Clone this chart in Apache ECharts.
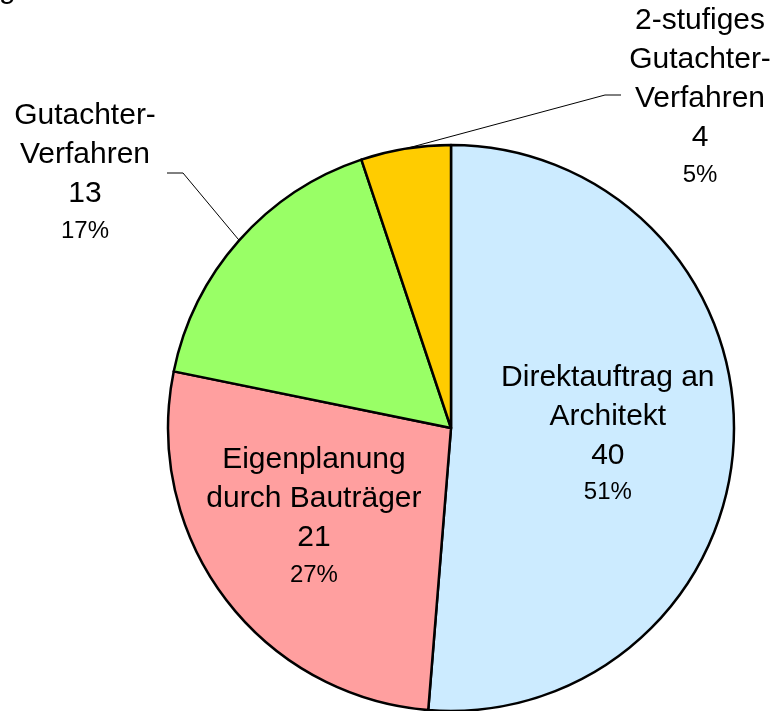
<!DOCTYPE html>
<html>
<head>
<meta charset="utf-8">
<script src="https://cdn.jsdelivr.net/npm/echarts@6/dist/echarts.min.js"></script>
<style>
  html, body { margin: 0; padding: 0; background: #fff; }
  #chart { width: 777px; height: 711px; }
</style>
</head>
<body>
<div id="chart"></div>
<script>
// Daten
var namen = ['Direktauftrag an\nArchitekt', 'Eigenplanung\ndurch Bauträger', 'Gutachter-\nVerfahren', '2-stufiges\nGutachter-\nVerfahren'];
var werte = [40, 21, 13, 4];
var farben = ['#CCEBFF', '#FF9F9F', '#99FF66', '#FFCC00'];

var mitte = [451, 428];
var radius = 283;

var pieData = [];
for (var i = 0; i < namen.length; i++) {
    var lbl = { position: i < 2 ? 'inside' : 'outside' };
    if (i >= 2) lbl.width = 170;   // keine Kuerzung der Aussenbeschriftung
    pieData.push({
        name: namen[i],
        value: werte[i],
        itemStyle: { color: farben[i] },
        label: lbl
    });
}

var chart = echarts.init(document.getElementById('chart'));
var option = {
    animation: false,
    backgroundColor: '#fff',
    graphic: [{
        type: 'text', x: -1, y: 5,
        style: { text: 'g', font: '30px "Liberation Sans"', fill: '#000', verticalAlign: 'bottom' }
    }],
    series: [{
        type: 'pie',
        center: mitte,
        radius: radius,
        startAngle: 90,
        clockwise: true,
        percentPrecision: 0,
        data: pieData,
        itemStyle: { borderColor: '#000', borderWidth: 2.5 },
        label: {
            color: '#000',
            fontFamily: 'Liberation Sans',
            formatter: function (p) {
                var zeilen = p.name.split('\n').map(function (z) { return '{n|' + z + '}'; });
                zeilen.push('{n|' + p.value + '}');
                zeilen.push('{p|' + p.percent + '%}');
                return zeilen.join('\n');
            },
            rich: {
                n: { fontSize: 30, lineHeight: 39, align: 'center', color: '#000', fontFamily: 'Liberation Sans' },
                p: { fontSize: 24, lineHeight: 36, align: 'center', color: '#000', fontFamily: 'Liberation Sans' }
            }
        },
        labelLine: {
            show: true,
            length: 85,
            length2: 16,
            lineStyle: { color: '#000', width: 1 }
        },
        labelLayout: function (params) {
            var r = params.labelRect;
            var cx = r.x + r.width / 2, cy = r.y + r.height / 2;
            var p0 = params.labelLinePoints ? params.labelLinePoints[0] : null;
            var lx, ly;
            if (params.dataIndex === 0) {
                return { dx: (cx - mitte[0]) * 0.1 - 2, dy: (cy - mitte[1]) * 0.1 };
            }
            if (params.dataIndex === 1) {
                return { dx: (cx - mitte[0]) * 0.1 - 10, dy: (cy - mitte[1]) * 0.1 - 7 };
            }
            if (params.dataIndex === 2) {
                lx = 85; ly = 173;
                return {
                    x: lx, y: ly, align: 'center', verticalAlign: 'middle',
                    labelLinePoints: [p0, [lx + 98, ly], [lx + 82, ly]]
                };
            }
            if (params.dataIndex === 3) {
                lx = 700; ly = 97;
                return {
                    x: lx, y: ly, align: 'center', verticalAlign: 'middle',
                    labelLinePoints: [p0, [lx - 95, ly - 2], [lx - 79, ly - 2]]
                };
            }
            return {};
        }
    }]
};
chart.setOption(option);
</script>
</body>
</html>
